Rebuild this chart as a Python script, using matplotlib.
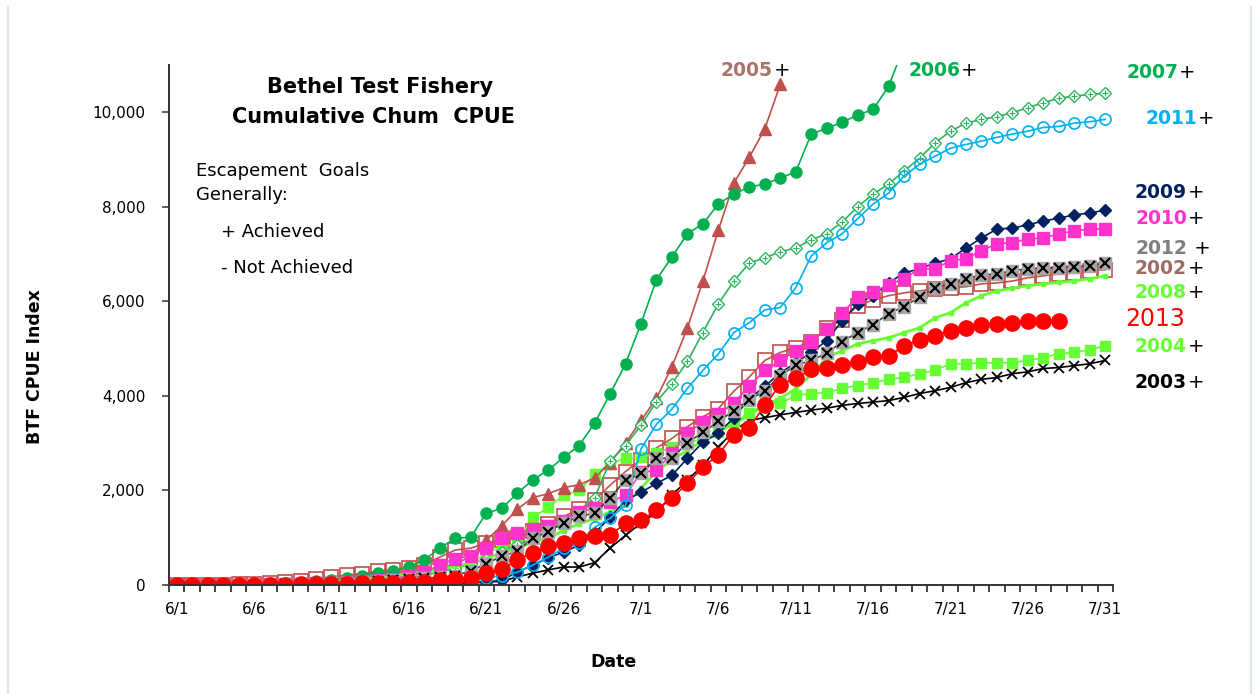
import numpy as np
import matplotlib
matplotlib.use("Agg")
import matplotlib.pyplot as plt
from matplotlib.lines import Line2D

nan = np.nan

# ── data: cumulative CPUE, one value per day from 6/1 (day 0) to 7/31 (day 60) ──
days = np.arange(61)
tick_days = np.arange(0, 61, 5)
tick_labels = ["6/1", "6/6", "6/11", "6/16", "6/21", "6/26",
               "7/1", "7/6", "7/11", "7/16", "7/21", "7/26", "7/31"]

y2002 = [0, 0, 0, 10, 20, 30, 40, 60, 90, 130, 170, 210, 240, 290, 320, 370, 430,
         590, 740, 780, 890, 950, 990, 1150, 1300, 1450, 1600, 1800, 2110, 2400,
         2650, 2900, 3100, 3350, 3560, 3730, 4100, 4400, 4750, 4920, 5020, 5150,
         5440, 5600, 5910, 6030, 6120, 6180, 6220, 6270, 6290, 6310, 6370, 6390,
         6430, 6500, 6540, 6580, 6600, 6650, 6670]
y2003 = [0, 0, 0, 0, 0, 0, 0, 0, 0, 5, 10, 10, 15, 20, 20, 25, 30, 35, 40, 50,
         60, 80, 170, 250, 320, 380, 380, 470, 780, 1050, 1310, 1540, 1900, 2220,
         2530, 2910, 3270, 3480, 3540, 3600, 3650, 3700, 3740, 3800, 3840, 3870,
         3900, 3970, 4050, 4110, 4180, 4280, 4350, 4390, 4470, 4510, 4580, 4600,
         4640, 4680, 4750]
y2004 = [0, 0, 0, 0, 5, 10, 20, 30, 40, 60, 80, 100, 130, 160, 200, 250, 300,
         380, 420, 460, 680, 800, 890, 1430, 1640, 1900, 2000, 2340, 2570, 2680,
         2700, 2790, 2910, 3000, 3100, 3230, 3440, 3630, 3840, 3840, 4010, 4050,
         4070, 4160, 4220, 4280, 4350, 4390, 4470, 4540, 4680, 4680, 4700, 4700,
         4700, 4750, 4810, 4890, 4920, 4980, 5060]
y2005 = [0, 0, 0, 0, 5, 10, 20, 30, 40, 50, 70, 90, 110, 140, 170, 200, 250,
         350, 450, 600, 950, 1250, 1600, 1850, 1930, 2060, 2120, 2260, 2590, 3000,
         3480, 3950, 4620, 5440, 6430, 7510, 8500, 9050, 9650, 10590,
         nan, nan, nan, nan, nan, nan, nan, nan, nan, nan, nan, nan, nan, nan,
         nan, nan, nan, nan, nan, nan, nan]
y2006 = [0, 0, 0, 0, 5, 10, 20, 30, 50, 80, 110, 150, 200, 260, 300, 380, 530,
         780, 990, 1010, 1520, 1620, 1940, 2220, 2430, 2700, 2950, 3420, 4040,
         4680, 5530, 6460, 6940, 7430, 7640, 8060, 8270, 8420, 8480, 8610, 8740,
         9540, 9660, 9790, 9940, 10060, 10550, 11400,
         nan, nan, nan, nan, nan, nan, nan, nan, nan, nan, nan, nan, nan]
y2007 = [0, 0, 0, 0, 0, 5, 10, 20, 30, 40, 50, 60, 80, 100, 130, 160, 200, 280,
         350, 450, 560, 700, 840, 980, 1150, 1350, 1550, 1850, 2620, 2950, 3380,
         3880, 4260, 4730, 5340, 5950, 6430, 6810, 6920, 7050, 7130, 7300, 7430,
         7680, 8000, 8270, 8480, 8760, 9030, 9350, 9600, 9770, 9850, 9910, 9990,
         10100, 10200, 10300, 10340, 10380, 10400]
y2008 = [0, 0, 0, 0, 5, 10, 20, 30, 40, 60, 80, 100, 120, 140, 170, 200, 250,
         330, 400, 450, 560, 680, 780, 900, 1000, 1150, 1300, 1400, 1550, 1700,
         2050, 2400, 2650, 2850, 3050, 3250, 3400, 3600, 3800, 3950, 4150, 4450,
         4800, 4960, 5100, 5170, 5230, 5340, 5440, 5650, 5760, 5970, 6120, 6220,
         6280, 6330, 6370, 6400, 6430, 6480, 6540]
y2009 = [0, 0, 0, 0, 0, 0, 0, 0, 0, 0, 5, 5, 10, 10, 15, 20, 25, 30, 40, 50, 60,
         100, 270, 420, 570, 700, 840, 1100, 1430, 1790, 1960, 2150, 2320, 2680,
         3020, 3210, 3540, 3940, 4200, 4490, 4700, 4920, 5170, 5590, 5950, 6120,
         6390, 6600, 6690, 6810, 6900, 7130, 7340, 7530, 7550, 7620, 7700, 7760,
         7830, 7870, 7930]
y2010 = [0, 0, 0, 0, 5, 10, 15, 20, 30, 40, 50, 70, 90, 110, 130, 200, 270, 420,
         560, 610, 790, 990, 1100, 1180, 1250, 1350, 1550, 1620, 1750, 1900, 2380,
         2430, 2790, 3220, 3440, 3610, 3850, 4210, 4540, 4750, 4960, 5130, 5420,
         5750, 6100, 6200, 6350, 6480, 6690, 6690, 6860, 6900, 7070, 7220, 7240,
         7320, 7340, 7430, 7490, 7530, 7530]
y2011 = [0, 0, 0, 0, 0, 0, 0, 0, 5, 5, 10, 15, 20, 25, 30, 40, 50, 60, 80, 100,
         150, 200, 270, 420, 590, 780, 890, 1220, 1410, 1690, 2880, 3400, 3720,
         4160, 4540, 4890, 5340, 5550, 5820, 5870, 6290, 6960, 7240, 7430, 7750,
         8060, 8290, 8650, 8900, 9070, 9240, 9320, 9390, 9470, 9540, 9600, 9680,
         9700, 9770, 9800, 9850]
y2012 = [0, 0, 0, 0, 0, 5, 10, 15, 20, 30, 40, 50, 60, 80, 100, 120, 140, 160,
         200, 300, 450, 610, 710, 990, 1130, 1310, 1450, 1520, 1840, 2220, 2360,
         2680, 2680, 3010, 3230, 3460, 3690, 3920, 4110, 4430, 4650, 4750, 4900,
         5150, 5340, 5510, 5740, 5890, 6090, 6290, 6370, 6480, 6560, 6580, 6650,
         6690, 6710, 6710, 6730, 6750, 6810]
y2013 = [0, 0, 0, 0, 0, 5, 10, 10, 15, 20, 25, 30, 35, 40, 50, 60, 60, 100, 120,
         150, 250, 330, 530, 680, 820, 880, 1000, 1030, 1050, 1310, 1370, 1580,
         1840, 2150, 2490, 2760, 3180, 3330, 3800, 4240, 4370, 4560, 4590, 4650,
         4720, 4820, 4850, 5050, 5190, 5270, 5380, 5440, 5510, 5530, 5550, 5590,
         5590, 5590, nan, nan, nan]

C02 = "#C0504D"; C03 = "#000000"; C04 = "#66FF33"; C05 = "#C0504D"
C06 = "#00B050"; C07 = "#2DB55D"; C08 = "#66FF33"; C09 = "#002060"
C10 = "#FF33CC"; C11 = "#00B0F0"; C12 = "#808080"; C13 = "#FF0000"

plt.rcParams.update({"font.family": "DejaVu Sans"})

W, H = 1255, 694
fig = plt.figure(figsize=(W / 100, H / 100), dpi=100)
ax = fig.add_axes([169 / W, 1 - 585 / H, (1113 - 169) / W, (585 - 65) / H])

def px(x, y):
    return x / W, 1 - y / H

lw = 1.2
ax.plot(days, y2002, color=C02, lw=lw, marker="s", ms=10, mfc="none", mec=C02, mew=1.2)
ax.plot(days, y2003, color=C03, lw=lw, marker="x", ms=7, mew=1.3)
ax.plot(days, y2004, color=C04, lw=lw, marker="s", ms=7, mec=C04)
ax.plot(days, y2005, color=C05, lw=lw, marker="^", ms=8, mec=C05)
ax.plot(days, y2006, color=C06, lw=lw, marker="o", ms=8, mec=C06)
ax.plot(days, y2007, color=C07, lw=lw, marker="D", ms=6, mfc="white", mec=C07, mew=1.0)
ax.plot(days, y2007, ls="none", marker="+", ms=4, mec=C07, mew=0.8)
ax.plot(days, y2008, color=C08, lw=2.0, marker="s", ms=3, mec=C08)
ax.plot(days, y2009, color=C09, lw=lw, marker="D", ms=6, mec=C09)
ax.plot(days, y2010, color=C10, lw=lw, marker="s", ms=8, mec=C10)
ax.plot(days, y2011, color=C11, lw=lw, marker="o", ms=8, mfc="none", mec=C11, mew=1.2)
ax.plot(days, y2012, color="#404040", lw=lw, marker="s", ms=9, mfc="#A6A6A6", mec="#A6A6A6")
ax.plot(days, y2012, ls="none", marker="x", ms=7, mec="#000000", mew=1.5)
ax.plot(days, y2013, color=C13, lw=lw, marker="o", ms=11, mec=C13)

ax.set_xlim(-0.5, 60.5)
ax.set_ylim(0, 11000)
ax.set_yticks(np.arange(0, 10001, 2000))
ax.set_yticklabels([f"{v:,}" for v in range(0, 10001, 2000)], fontsize=11)
ax.set_xticks(tick_days)
ax.set_xticklabels(tick_labels, fontsize=11)
ax.set_xticks(np.arange(-0.5, 61, 1), minor=True)
ax.tick_params(axis="x", which="major", length=0, pad=12)
ax.tick_params(axis="x", which="minor", length=5, width=1.2, direction="out", color="#222")
ax.tick_params(axis="y", length=5, width=1.2, direction="out", pad=12, color="#444")
for s in ("top", "right"):
    ax.spines[s].set_visible(False)
for s in ("left", "bottom"):
    ax.spines[s].set_color("#333333")
    ax.spines[s].set_linewidth(1.4)

ax.set_ylabel("BTF CPUE Index", fontsize=12.5, fontweight="bold")
ax.yaxis.set_label_coords((44 - 169) / (1113 - 169), 0.42)
fig.text(*px(613, 662), "Date", fontsize=12.5, fontweight="bold", ha="center", va="center")

# title and note inside the plot area
fig.text(*px(380, 87), "Bethel Test Fishery", fontsize=15, fontweight="bold", ha="center", va="center")
fig.text(*px(373, 117), "Cumulative Chum  CPUE", fontsize=15, fontweight="bold", ha="center", va="center")
fig.text(*px(196, 171), "Escapement  Goals", fontsize=13, ha="left", va="center")
fig.text(*px(196, 195), "Generally:", fontsize=13, ha="left", va="center")
fig.text(*px(221, 232), "+ Achieved", fontsize=13, ha="left", va="center")
fig.text(*px(221, 268), "- Not Achieved", fontsize=13, ha="left", va="center")

# year labels with black "+"
year_labels = [
    ("2005", "#A8736B", 773, 70, "+"),
    ("2006", C06, 960, 71, "+"),
    ("2007", C06, 1178, 73, "+"),
    ("2011", C11, 1197, 118, "+"),
    ("2009", C09, 1187, 193, "+"),
    ("2010", C10, 1187, 219, "+"),
    ("2012", "#7F7F7F", 1187, 249, " +"),
    ("2002", "#9E6B64", 1187, 269, "+"),
    ("2008", C08, 1187, 292, "+"),
    ("2004", C08, 1187, 346, "+"),
    ("2003", "#000000", 1187, 383, "+"),
]
for txt, col, xr, yc, plus in year_labels:
    fig.text(*px(xr, yc), txt, color=col, fontsize=13.5, fontweight="bold", ha="right", va="center")
    fig.text(*px(xr + 1, yc), plus, color="#000000", fontsize=14, ha="left", va="center")
fig.text(*px(1155, 319), "2013", color=C13, fontsize=17, ha="center", va="center")

# thin frame lines at the image edges
for xe in (8, 1251):
    fig.add_artist(Line2D([xe / W, xe / W], [0, 1 - 7 / H], color="#DCE6EC", lw=1.5))

fig.savefig("out.png", dpi=100)
